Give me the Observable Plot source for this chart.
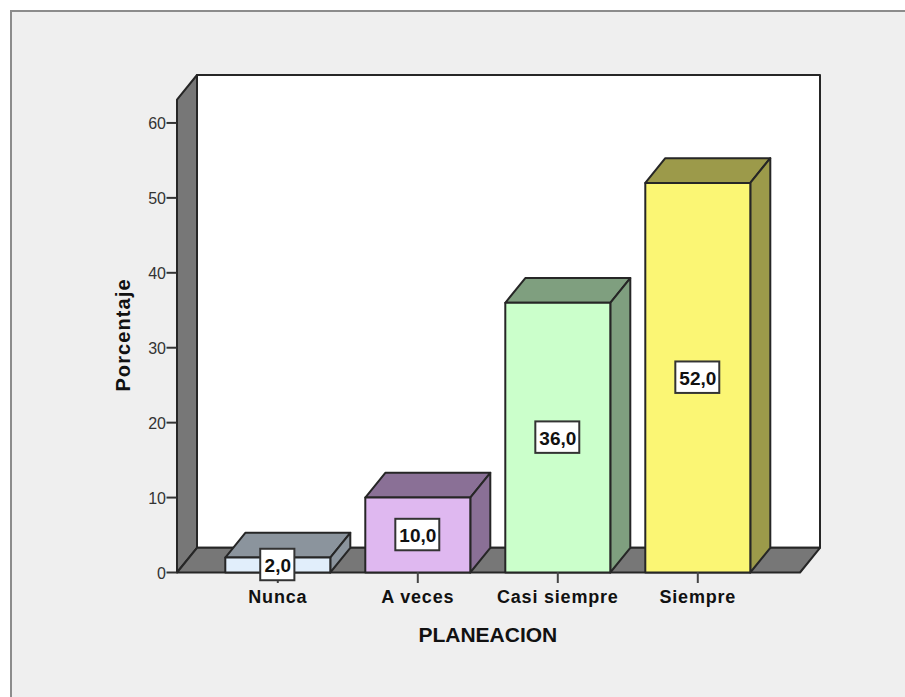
<!DOCTYPE html>
<html lang="es">
<head>
<meta charset="utf-8">
<script src="https://cdn.jsdelivr.net/npm/d3@7"></script>
<script src="https://cdn.jsdelivr.net/npm/@observablehq/plot@0.6"></script>
<style>
  html, body { margin: 0; padding: 0; background: #fff; overflow: hidden; }
  #panel { position: absolute; left: 10px; top: 10px; width: 920px; height: 720px;
           background: #efefef; border: 2px solid #8c8c8c; box-sizing: border-box; }
  #chart { position: absolute; left: 0; top: 0; }
  #chart svg { background: transparent; display: block; }
  #chart g[aria-label="x-axis tick label"] { letter-spacing: 0.8px; }
  #chart g.y-title { letter-spacing: 1.1px; }
</style>
</head>
<body>
<div id="panel"></div>
<div id="chart"></div>
<script>
// Porcentajes por categoría de PLANEACION
const categories = ["Nunca", "A veces", "Casi siempre", "Siempre"];
const percentages = [2, 10, 36, 52];
const frontColors = ["#e1eefb", "#dfb8f0", "#cbffcb", "#fbf674"];
const shadeColors = ["#8b949d", "#8a7096", "#7f9f7f", "#9c9a4a"];
const yTicks = [0, 10, 20, 30, 40, 50, 60];

// Extrusion of the pseudo-3D box, in scale units
const depthX = 1 / 7;
const depthY = 3.3;
const barHalf = 0.375;
const wallTop = 63.1;
const xFront = [-0.72, 3.73];
const wallGray = "#777777";
const edge = "#262626";

const polys = [];
function face(id, fill, points) {
  points.forEach(([x, y]) => polys.push({id, fill, x, y}));
}

// Left wall, back wall and floor
face("wall", wallGray, [[xFront[0], 0], [xFront[0], wallTop], [xFront[0] + depthX, wallTop + depthY], [xFront[0] + depthX, depthY]]);
face("back", "#ffffff", [[xFront[0] + depthX, depthY], [xFront[0] + depthX, wallTop + depthY], [xFront[1] + depthX, wallTop + depthY], [xFront[1] + depthX, depthY]]);
face("floor", wallGray, [[xFront[0], 0], [xFront[0] + depthX, depthY], [xFront[1] + depthX, depthY], [xFront[1], 0]]);

// Three visible faces per bar
percentages.forEach((v, i) => {
  const l = i - barHalf, r = i + barHalf;
  face(`top${i}`, shadeColors[i], [[l, v], [l + depthX, v + depthY], [r + depthX, v + depthY], [r, v]]);
  face(`side${i}`, shadeColors[i], [[r, 0], [r, v], [r + depthX, v + depthY], [r + depthX, depthY]]);
  face(`front${i}`, frontColors[i], [[l, 0], [l, v], [r, v], [r, 0]]);
});

// Value tags sit at mid-height of each bar
const fmt = v => v.toFixed(1).replace(".", ",");
const tags = percentages.map((v, i) => ({
  i, v, label: fmt(v),
  half: fmt(v).length === 3 ? 0.122 : 0.157
}));
const tagHalfHeight = 2.1;

const font = "'Liberation Sans', Arial, sans-serif";

const chart = Plot.plot({
  width: 905,
  height: 697,
  marginLeft: 176.5,
  marginRight: 85.5,
  marginTop: 74.5,
  marginBottom: 125,
  style: {background: "transparent", fontFamily: font},
  x: {type: "linear", domain: [xFront[0], xFront[1] + depthX]},
  y: {domain: [0, wallTop + depthY]},
  color: {type: "identity"},
  marks: [
    Plot.line(polys, {
      x: "x", y: "y", z: "id", fill: "fill",
      stroke: edge, strokeWidth: 2, strokeLinejoin: "round",
      curve: "linear-closed"
    }),
    Plot.axisY({
      ticks: yTicks, tickSize: 10, text: null, label: null,
      stroke: "#333", strokeWidth: 2, strokeOpacity: 1
    }),
    Plot.axisY({
      ticks: yTicks, tickSize: 0, tickPadding: 11, label: null, dy: 1,
      fill: "#333", fontSize: 16, tickFormat: d => String(d)
    }),
    Plot.axisX({
      ticks: [0, 1, 2, 3], tickSize: 11, tickPadding: 7, label: null,
      tickFormat: i => categories[i],
      stroke: "#444", strokeWidth: 2, strokeOpacity: 1,
      fill: "#111", fontSize: 18, fontWeight: "bold"
    }),
    Plot.rect(tags, {
      x1: d => d.i - d.half, x2: d => d.i + d.half,
      y1: d => d.v / 2 - tagHalfHeight, y2: d => d.v / 2 + tagHalfHeight,
      fill: "#ffffff", stroke: "#333", strokeWidth: 2
    }),
    Plot.text(tags, {
      x: "i", y: d => d.v / 2, text: "label", dy: 1,
      fill: "#111", fontSize: 19, fontWeight: "bold"
    }),
    Plot.text(["PLANEACION"], {
      x: 1.5, frameAnchor: "bottom", dy: 69,
      fill: "#111", fontSize: 21, fontWeight: "bold"
    }),
    Plot.text(["Porcentaje"], {
      y: 31.7, frameAnchor: "left", dx: -53, rotate: -90, textAnchor: "middle",
      className: "y-title",
      fill: "#111", fontSize: 20, fontWeight: "bold"
    })
  ]
});
document.getElementById("chart").append(chart);
</script>
</body>
</html>
